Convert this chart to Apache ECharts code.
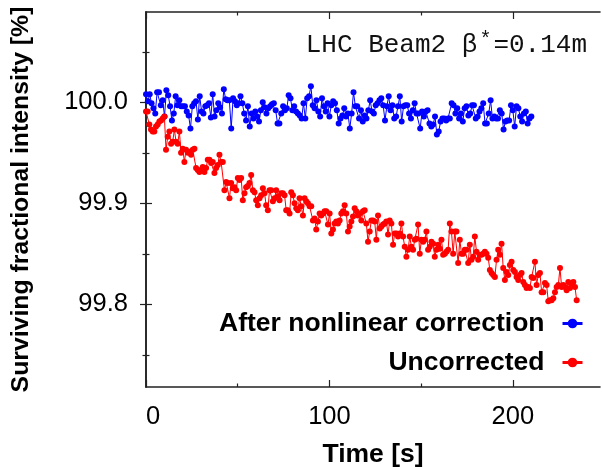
<!DOCTYPE html>
<html>
<head>
<meta charset="utf-8">
<script src="https://cdn.jsdelivr.net/npm/echarts@6/dist/echarts.min.js"></script>
<style>html,body{margin:0;padding:0;background:#fff}#c{width:602px;height:467px}</style>
</head>
<body>
<div id="c"></div>
<script>
// ---- data ----
const blueName = 'After nonlinear correction';
const redName = 'Uncorrected';
const blueStep = 1.01;   // seconds between samples
const redStep = 0.91;
const blueValues = [
100.008,100.001,100.008,99.999,99.994,99.989,100.010,100.010,99.997,100.002,
99.986,100.012,100.007,99.996,99.982,99.989,100.006,99.997,100.002,99.996,
99.996,99.996,99.991,99.987,99.974,99.996,99.999,100.001,99.983,100.006,
99.991,99.989,99.996,99.997,99.999,99.985,100.008,99.986,99.992,99.999,
99.995,99.989,100.013,100.003,100.002,100.002,99.974,100.004,100.001,99.997,
99.999,100.006,99.999,99.989,99.982,99.996,99.976,99.989,99.984,99.991,
99.986,99.981,99.992,100.000,99.995,99.989,99.994,99.996,99.998,99.999,
99.992,99.979,
99.979,99.989,99.996,99.992,99.994,100.007,100.004,99.992,99.996,99.991,
99.989,99.987,99.984,99.999,99.984,100.004,100.006,100.016,99.997,99.994,
100.002,99.991,99.986,100.004,99.996,99.991,99.999,99.986,99.997,100.001,
99.999,99.992,99.979,99.984,99.987,99.994,99.986,99.989,99.974,99.989,
100.010,99.996,99.996,99.984,99.992,99.981,99.987,99.984,99.992,100.002,
99.991,99.989,99.997,99.999,100.002,100.004,99.997,99.982,99.996,100.006,
99.992,99.997,99.984,99.986,99.996,100.006,99.981,99.996,99.997,99.997,
99.989,99.984,99.992,99.999,99.989,99.989,99.974,99.991,99.986,
99.991,99.992,99.979,99.976,99.978,99.986,99.968,99.971,99.981,99.984,
99.984,99.982,99.984,99.984,99.999,99.997,99.989,99.994,99.984,99.989,
99.981,99.994,99.996,99.987,99.989,99.997,99.997,99.984,99.986,99.991,
99.994,99.999,99.979,99.979,99.989,100.002,99.984,99.986,99.984,99.984,
99.992,99.989,99.973,99.981,99.982,99.982,99.997,99.992,99.976,99.996,
99.994,99.986,99.981,99.989,99.991,99.979,99.984,99.986
];
const redValues = [
99.991,99.991,99.978,99.973,99.971,99.971,99.976,99.978,99.981,99.982,
99.984,99.986,99.953,99.966,99.971,99.959,99.961,99.973,99.961,99.959,
99.971,99.950,99.954,99.941,99.953,99.950,99.951,99.948,99.953,99.954,
99.935,99.933,99.931,99.933,99.936,99.931,99.935,99.943,99.943,99.940,
99.941,99.930,99.935,99.938,99.948,99.941,99.941,99.913,99.921,99.920,
99.905,99.920,99.915,99.916,99.913,99.925,99.923,99.925,99.903,99.910,
99.916,99.917,99.920,99.928,99.913,99.911,99.903,99.898,99.905,99.908,
99.915,99.910,99.898,99.893,99.913,99.913,99.902,99.905,99.913,99.907,
99.903,99.910,99.910,99.908,99.893,
99.893,99.890,99.911,99.908,99.900,99.895,99.893,99.905,99.897,99.888,
99.905,99.902,99.900,99.897,99.897,99.883,99.885,99.874,99.882,99.890,
99.888,99.890,99.892,99.892,99.879,99.890,99.870,99.874,99.880,99.882,
99.880,99.883,99.890,99.892,99.898,99.890,99.872,99.877,99.882,99.887,
99.895,99.892,99.888,99.890,99.883,99.892,99.893,99.880,99.862,99.872,
99.883,99.883,99.882,99.864,99.888,99.875,99.877,99.879,99.880,99.882,
99.869,99.883,99.880,99.859,99.870,99.870,99.867,99.870,99.880,99.867,
99.857,99.847,99.854,99.867,99.857,99.854,99.864,99.865,99.879,99.850,
99.864,99.862,99.864,99.872,99.854,99.857,99.862,
99.860,99.847,99.854,99.859,99.855,99.864,99.849,99.850,99.852,99.854,
99.880,99.872,99.850,99.872,99.872,99.841,99.864,99.850,99.850,99.854,
99.854,99.841,99.859,99.844,99.847,99.867,99.852,99.844,99.849,99.849,
99.850,99.852,99.850,99.846,99.834,99.831,99.829,99.827,99.844,99.854,
99.849,99.860,99.836,99.824,99.832,99.829,99.839,99.842,99.834,99.832,
99.827,99.824,99.829,99.831,99.822,99.819,99.816,99.817,99.816,99.827,
99.826,99.842,99.819,99.829,99.831,99.812,99.812,99.821,99.819,99.803,
99.804,99.804,99.806,99.812,99.817,99.819,99.836,99.817,99.819,99.817,
99.814,99.822,99.816,99.819,99.822,99.817,99.804
];
const xMajorTicks = [0, 100, 200];
const xMinorTicks = [50, 150];
const yMajorTicks = [99.8, 99.9, 100.0];
const yMinorTicks = [99.75, 99.85, 99.95, 100.05];
const xRange = [0, 247.5];
const yRange = [99.7181, 100.0894];
const annotation = 'LHC Beam2 β';
const annotationSup = '*';
const annotationTail = '=0.14m';

// ---- chart ----
const FONT = '"Liberation Sans", Arial, Helvetica, sans-serif';
const frame = { show: true, lineStyle: { color: '#222', width: 1.6 } };
function xAx(pos, ticks, len, labels) {
  return {
    type: 'value', position: pos, min: xRange[0], max: xRange[1],
    axisLine: ticks === xMajorTicks ? frame : { show: false },
    splitLine: { show: false },
    axisTick: { show: true, inside: true, length: len, customValues: ticks, lineStyle: { color: '#222', width: 1.2 } },
    axisLabel: labels ? {
      show: true, customValues: labels, margin: 17, color: '#000', fontFamily: FONT, fontSize: 25.5,
      formatter: v => v === 0 ? '{z|0}' : String(v),
      rich: { z: { fontFamily: FONT, fontSize: 25.5, color: '#000', padding: [0, 0, 0, 14] } }
    } : { show: false }
  };
}
function yAx(pos, ticks, len, labels) {
  return {
    type: 'value', position: pos, min: yRange[0], max: yRange[1],
    axisLine: ticks === yMajorTicks ? frame : { show: false },
    splitLine: { show: false },
    axisTick: { show: true, inside: true, length: len, customValues: ticks, lineStyle: { color: '#222', width: 1.2 } },
    axisLabel: labels ? {
      show: true, customValues: labels, margin: 18, color: '#000', fontFamily: FONT, fontSize: 25.5,
      formatter: v => v.toFixed(1)
    } : { show: false }
  };
}

const xAxes = [
  Object.assign(xAx('bottom', xMajorTicks, 7, xMajorTicks), {
    name: 'Time [s]', nameLocation: 'middle', nameGap: 54,
    nameTextStyle: { fontFamily: FONT, fontSize: 26.5, fontWeight: 'bold', color: '#000' }
  }),
  xAx('bottom', xMinorTicks, 3.5, null),
  xAx('top', xMajorTicks, 7, null),
  xAx('top', xMinorTicks, 3.5, null)
];
const yAxes = [
  Object.assign(yAx('left', yMajorTicks, 6, yMajorTicks), {
    name: 'Surviving fractional intensity [%]', nameLocation: 'middle', nameGap: 112,
    nameTextStyle: { fontFamily: FONT, fontSize: 24.8, fontWeight: 'bold', color: '#000' }
  }),
  yAx('left', yMinorTicks, 3.5, null),
  yAx('right', yMajorTicks, 6, null),
  yAx('right', yMinorTicks, 3.5, null)
];

const chart = echarts.init(document.getElementById('c'), null, { renderer: 'canvas' });
chart.setOption({
  animation: false,
  backgroundColor: '#fff',
  grid: { left: 146, top: 12, right: 2, bottom: 80, containLabel: false, outerBoundsMode: 'none' },
  xAxis: xAxes,
  yAxis: yAxes,
  legend: {
    data: [blueName, redName],
    orient: 'vertical', align: 'right',
    right: 13, top: 305,
    itemWidth: 20, itemHeight: 12, itemGap: 12,
    textStyle: { fontFamily: FONT, fontSize: 26.5, fontWeight: 'bold', color: '#000', padding: [0, 13, 0, 0] },
    lineStyle: { width: 3 }
  },
  graphic: [{
    type: 'text', right: 15, top: 30, z: 10,
    style: {
      text: annotation + '{sup|' + annotationSup + '}' + annotationTail,
      fontFamily: '"Liberation Mono", "Courier New", monospace',
      fontSize: 26, fill: '#111', lineHeight: 30,
      rich: {
        sup: { fontFamily: '"Liberation Mono", monospace', fontSize: 20, verticalAlign: 'top', lineHeight: 30, padding: [0, 2, 10, 2] }
      }
    }
  }],
  series: [
    {
      name: blueName, type: 'line', xAxisIndex: 0, yAxisIndex: 0,
      data: blueValues.map((v, i) => [i * blueStep, v]),
      symbol: 'circle', symbolSize: 6, showSymbol: true,
      lineStyle: { color: '#0000ff', width: 1 },
      itemStyle: { color: '#0000ff' },
      z: 2
    },
    {
      name: redName, type: 'line', xAxisIndex: 0, yAxisIndex: 0,
      data: redValues.map((v, i) => [i * redStep, v]),
      symbol: 'circle', symbolSize: 6, showSymbol: true,
      lineStyle: { color: '#ff0000', width: 1 },
      itemStyle: { color: '#ff0000' },
      z: 3
    }
  ]
});
</script>
</body>
</html>
